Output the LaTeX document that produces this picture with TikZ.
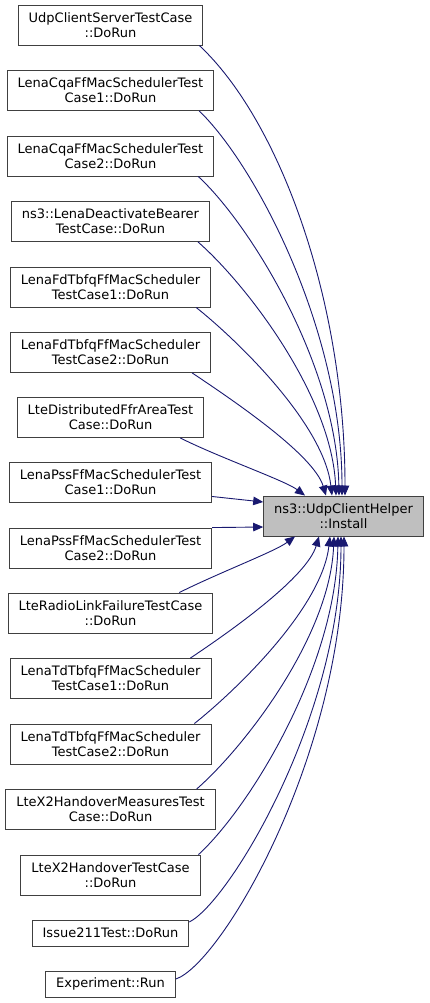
\documentclass[tikz,border=0pt]{standalone}
\usepackage{fontspec}
\setmainfont{DejaVu Sans}
\usetikzlibrary{arrows.meta}
\definecolor{myedge}{RGB}{25,25,112}
\definecolor{myframe}{RGB}{64,64,64}
\definecolor{mygrey}{RGB}{191,191,191}

\begin{document}
\begin{tikzpicture}[x=1pt,y=-1pt,line width=0.9pt,
  fnode/.style={draw=myframe,fill=white,align=center,inner xsep=10.5pt,inner ysep=0pt,
    minimum height=40pt,font=\fontsize{13}{15}\selectfont},
  snode/.style={fnode,minimum height=26pt},
  hnode/.style={fnode,fill=mygrey},
  calls/.style={draw=myedge,-{Triangle[length=10pt,width=8.5pt]}}]

  \useasboundingbox (0,0) rectangle (429,1003);

  % callers
  \node[fnode] (udp) at (110.5,25) {UdpClientServerTestCase\\::DoRun};
  \node[fnode] (cqa1) at (110.5,90.5) {LenaCqaFfMacSchedulerTest\\Case1::DoRun};
  \node[fnode] (cqa2) at (110.5,156) {LenaCqaFfMacSchedulerTest\\Case2::DoRun};
  \node[fnode] (deact) at (110.5,221.5) {ns3::LenaDeactivateBearer\\TestCase::DoRun};
  \node[fnode] (fd1) at (110.5,287) {LenaFdTbfqFfMacScheduler\\TestCase1::DoRun};
  \node[fnode] (fd2) at (110.5,352.5) {LenaFdTbfqFfMacScheduler\\TestCase2::DoRun};
  \node[fnode] (ffr) at (110.5,417.5) {LteDistributedFfrAreaTest\\Case::DoRun};
  \node[fnode] (pss1) at (110.5,482.5) {LenaPssFfMacSchedulerTest\\Case1::DoRun};
  \node[fnode] (pss2) at (110.5,548) {LenaPssFfMacSchedulerTest\\Case2::DoRun};
  \node[fnode] (rlf) at (110.5,613) {LteRadioLinkFailureTestCase\\::DoRun};
  \node[fnode] (td1) at (110.5,678.5) {LenaTdTbfqFfMacScheduler\\TestCase1::DoRun};
  \node[fnode] (td2) at (110.5,744) {LenaTdTbfqFfMacScheduler\\TestCase2::DoRun};
  \node[fnode] (x2m) at (110.5,809.5) {LteX2HandoverMeasuresTest\\Case::DoRun};
  \node[fnode] (x2h) at (110.5,875) {LteX2HandoverTestCase\\::DoRun};
  \node[snode] (iss) at (110.5,933) {Issue211Test::DoRun};
  \node[snode] (exp) at (110.5,984) {Experiment::Run};

  % callee
  \node[hnode,minimum width=159pt] (inst) at (343.5,516) {ns3::UdpClientHelper\\::Install};

  % calls from above
  \draw[calls] ([xshift=-4pt]udp.south east) .. controls +(80,75) and +(0,-196) .. ([xshift=1.5pt]inst.north);
  \draw[calls] ([xshift=-15pt]cqa1.south east) .. controls +(56,54) and +(0,-166) .. ([xshift=-1.5pt]inst.north);
  \draw[calls] ([xshift=-16pt]cqa2.south east) .. controls +(52,48) and +(-2,-130) .. ([xshift=-4.5pt]inst.north);
  \draw[calls] ([xshift=-12pt]deact.south east) .. controls +(48,42) and +(-4,-100) .. ([xshift=-7.5pt]inst.north);
  \draw[calls] ([xshift=-15pt]fd1.south east) .. controls +(45,36) and +(-8,-70) .. ([xshift=-11.5pt]inst.north);
  \draw[calls] ([xshift=-19pt]fd2.south east) .. controls +(45,30) and +(-12,-40) .. ([xshift=-17.5pt]inst.north);
  \draw[calls] ([xshift=-24pt]ffr.south east) .. controls +(40,20) and +(-20,-15) .. ([xshift=-38.5pt]inst.north);

  % calls from the side
  \draw[calls] ([yshift=-14pt]pss1.east) -- ([yshift=14pt]inst.west);
  \draw[calls] (pss2.north east) -- ([yshift=-11pt]inst.west);

  % calls from below
  \draw[calls] ([xshift=-34pt]rlf.north east) .. controls +(40,-20) and +(-20,15) .. ([xshift=-48.5pt]inst.south);
  \draw[calls] ([xshift=-21pt]td1.north east) .. controls +(45,-30) and +(-12,40) .. ([xshift=-24.5pt]inst.south);
  \draw[calls] ([xshift=-17pt]td2.north east) .. controls +(45,-36) and +(-8,70) .. ([xshift=-13.5pt]inst.south);
  \draw[calls] ([xshift=-19pt]x2m.north east) .. controls +(48,-42) and +(-4,100) .. ([xshift=-9.5pt]inst.south);
  \draw[calls] ([xshift=-2pt]x2h.north east) .. controls +(52,-48) and +(-2,130) .. ([xshift=-5.5pt]inst.south);
  \draw[calls] ([yshift=11pt]iss.east) .. controls +(40,-20) and +(0,180) .. ([xshift=-2.5pt]inst.south);
  \draw[calls] ([yshift=5pt]exp.east) .. controls +(45,-15) and +(0,220) .. ([xshift=0.5pt]inst.south);

\end{tikzpicture}
\end{document}
